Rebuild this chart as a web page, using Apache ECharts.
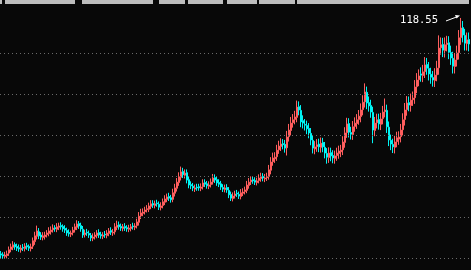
<!DOCTYPE html>
<html><head><meta charset="utf-8">
<script src="https://cdn.jsdelivr.net/npm/echarts@6/dist/echarts.min.js"></script>
<style>html,body{margin:0;padding:0;background:#080808;}#c{width:471px;height:270px;}</style>
</head><body><div id="c"></div><script>
const opens = [
61.0,60.8,60.4,60.6,61.2,62.1,62.6,63.3,62.8,62.5,
62.0,62.6,62.3,63.0,62.8,62.3,62.9,64.0,65.3,66.4,
65.6,65.0,65.2,65.7,66.0,66.4,66.9,67.4,67.0,67.5,
67.9,67.7,67.2,66.7,66.2,65.8,66.2,66.9,67.5,68.4,
67.9,67.0,65.7,66.3,66.0,65.5,64.8,65.2,65.5,66.2,
65.7,65.3,65.8,65.5,66.0,66.7,66.1,66.4,67.5,68.1,
67.7,67.2,67.7,67.4,67.0,67.2,67.8,67.5,67.9,68.7,
70.3,70.9,71.3,71.8,71.9,72.6,73.3,72.8,73.4,73.1,
72.3,72.8,73.6,74.3,75.0,74.7,74.3,75.8,77.0,78.4,
79.7,81.1,80.2,80.8,79.1,77.9,77.5,76.8,77.3,77.4,
77.0,77.4,78.4,78.1,77.5,77.9,78.6,79.6,79.1,78.4,
78.1,77.2,76.7,77.2,76.5,75.5,74.5,75.2,75.8,75.5,
75.0,75.8,76.2,76.5,77.7,78.6,79.1,78.9,78.4,78.9,
79.4,79.9,79.3,79.6,79.9,81.4,83.5,84.2,84.7,86.4,
87.2,87.9,87.7,86.9,89.6,91.1,93.0,93.8,94.3,96.9,
96.0,93.5,92.6,92.3,91.6,90.4,88.7,86.6,87.2,87.8,
87.0,88.2,87.0,85.5,84.5,85.7,85.0,84.3,85.0,85.5,
85.9,86.4,88.2,90.6,92.8,90.6,90.1,92.1,92.8,93.8,
94.5,96.2,98.1,100.4,97.9,97.2,95.5,91.1,93.0,93.8,
92.6,94.0,95.7,96.0,91.9,88.7,87.7,87.0,88.4,89.0,
89.6,91.3,93.8,96.2,97.9,97.2,98.6,99.1,101.8,103.5,
104.9,104.5,105.5,107.2,106.2,104.8,104.0,103.3,104.7,106.4,
111.3,112.1,110.6,112.1,112.5,110.1,108.7,106.7,108.4,110.1,
113.8,116.2,114.3,112.3,113.3];
const closes = [
60.7,60.5,60.7,61.0,62.0,62.7,63.2,62.7,62.4,62.2,
62.4,62.4,62.9,62.7,62.4,62.7,64.2,65.4,66.6,65.4,
65.1,65.4,65.6,66.1,66.6,66.8,67.3,67.1,67.6,67.8,
67.6,67.1,66.8,66.1,65.9,66.1,66.8,67.6,68.3,67.8,
67.1,65.6,66.1,66.1,65.6,64.9,65.1,65.6,66.1,65.6,
65.4,65.6,65.6,66.1,66.6,66.3,66.3,67.6,68.0,67.6,
67.3,67.6,67.3,67.1,67.3,67.6,67.6,67.8,68.8,70.2,
71.0,71.2,71.7,72.0,72.7,73.2,72.9,73.2,73.2,72.4,
72.7,73.7,74.4,74.9,74.6,74.2,75.9,77.1,78.5,79.8,
81.0,80.3,80.7,79.0,77.8,77.6,77.1,77.1,77.1,77.1,
77.3,78.3,78.0,77.6,77.8,78.5,79.5,79.0,78.3,78.0,
77.3,76.8,77.1,76.6,75.4,74.6,75.1,75.6,75.6,75.1,
75.9,76.1,76.6,77.8,78.5,79.0,78.8,78.5,78.8,79.5,
79.8,79.5,79.5,79.8,81.5,83.4,84.4,84.6,86.3,87.3,
87.8,87.6,86.8,89.5,91.2,92.9,93.7,94.4,96.8,96.1,
93.2,92.9,92.4,91.5,90.5,88.8,86.8,87.1,87.6,87.1,
88.0,87.1,85.6,84.6,85.6,84.9,84.4,84.9,85.6,86.1,
86.3,88.3,90.5,92.7,90.7,90.2,92.0,92.9,93.7,94.6,
96.1,98.0,100.5,97.8,97.1,95.6,91.2,92.9,93.7,92.7,
93.9,95.6,96.1,92.0,88.8,87.8,87.1,88.3,89.3,89.5,
91.2,93.7,96.1,97.8,97.3,98.5,99.0,101.7,103.4,104.4,
104.6,105.4,107.1,106.3,104.9,104.1,103.4,104.6,106.3,111.2,
112.0,110.7,112.0,112.4,110.2,108.8,106.8,108.3,110.0,113.7,
116.1,114.4,112.4,113.2,112.2];
const highs = [
61.7,61.4,61.5,61.8,62.8,63.5,64.1,63.8,63.5,63.3,
63.2,63.4,63.6,63.7,63.3,63.5,65.0,66.4,67.9,67.3,
66.3,66.3,66.4,66.8,67.5,67.7,68.2,68.0,68.5,68.6,
68.7,68.2,68.0,67.4,67.0,66.7,67.6,68.4,69.2,69.0,
68.6,67.8,66.9,67.1,66.7,66.1,66.0,66.3,66.8,67.0,
66.4,66.3,66.6,66.8,67.3,67.5,67.1,68.5,69.1,68.9,
68.4,68.3,68.5,68.0,68.1,68.3,68.6,68.5,69.6,71.2,
72.0,72.1,72.5,72.9,73.5,74.1,74.1,74.0,74.2,73.8,
73.6,74.5,75.3,75.7,75.9,75.4,76.9,78.1,79.5,80.9,
82.3,82.0,81.6,81.6,79.9,78.7,78.3,77.9,78.1,78.1,
78.2,79.2,79.2,78.8,78.7,79.4,80.5,80.4,79.9,79.2,
78.8,78.0,77.9,78.0,77.3,76.2,76.0,76.4,76.6,76.2,
76.8,77.0,77.4,78.8,79.5,79.9,79.8,79.7,79.6,80.4,
80.8,80.7,80.5,80.8,82.7,84.6,85.7,85.8,87.6,88.6,
89.2,89.0,88.8,91.0,92.7,94.4,95.1,95.9,98.4,98.2,
97.3,94.8,93.9,93.5,92.9,91.7,90.0,88.5,89.0,89.1,
89.4,89.3,88.3,86.8,87.0,86.9,86.3,86.2,86.9,87.4,
87.6,89.7,91.9,94.2,94.1,92.0,93.4,94.3,95.1,96.1,
97.7,99.7,102.6,101.8,99.4,98.6,96.9,94.4,95.2,95.2,
95.4,97.1,98.9,97.4,93.3,90.1,89.1,89.8,90.8,90.9,
92.7,95.3,97.8,99.5,99.4,100.1,100.6,103.4,105.1,106.0,
106.5,107.1,109.0,108.8,107.8,106.4,105.6,106.3,108.1,114.3,
113.8,113.7,113.8,114.2,114.1,111.8,110.3,110.0,111.8,115.6,
118.55,117.8,115.9,115.0,115.0];
const lows = [
60.0,59.8,59.8,59.9,60.5,61.4,61.9,62.0,61.7,61.5,
61.3,61.7,61.6,62.0,61.7,61.6,62.2,63.2,64.5,64.6,
64.4,64.3,64.5,65.0,65.3,65.7,66.2,66.4,66.3,66.8,
66.9,66.4,66.1,65.4,65.2,65.1,65.5,66.2,66.8,67.1,
66.4,64.9,65.0,65.4,64.9,64.1,64.1,64.5,64.8,64.9,
64.7,64.6,64.9,64.8,65.3,65.6,65.4,65.7,66.8,66.9,
66.6,66.5,66.6,66.4,66.3,66.5,66.9,66.8,67.2,67.9,
69.5,70.2,70.6,71.1,71.2,71.9,72.2,72.1,72.5,71.7,
71.6,72.1,72.9,73.6,73.9,73.5,73.6,75.0,76.2,77.6,
78.9,79.5,79.4,78.2,77.0,76.8,76.3,76.1,76.4,76.4,
76.3,76.7,77.3,76.9,76.8,77.2,77.9,78.3,77.6,77.3,
76.6,76.1,76.0,75.9,74.6,73.9,73.8,74.5,74.9,74.4,
74.3,75.1,75.5,75.8,76.9,77.8,78.1,77.8,77.7,78.2,
78.6,78.7,78.5,78.8,79.1,80.4,82.5,83.2,83.7,85.4,
86.1,86.5,85.7,85.0,88.4,89.9,91.8,92.6,93.1,94.8,
91.9,91.6,91.1,90.2,89.2,87.5,85.5,85.3,85.9,85.8,
85.7,85.8,84.3,83.0,83.2,83.6,83.1,83.0,83.7,84.2,
84.6,85.1,86.9,89.3,89.4,88.9,88.8,90.8,91.5,92.5,
93.1,94.8,96.7,96.3,95.7,94.2,88.0,89.7,91.6,91.3,
91.2,92.6,94.3,90.5,87.3,86.3,85.6,85.5,87.0,87.6,
88.2,89.9,92.3,94.7,95.8,95.7,97.1,97.6,100.2,101.9,
103.0,102.9,103.9,104.7,103.3,102.5,101.8,101.7,103.1,104.7,
109.6,109.0,108.9,110.4,108.5,107.1,105.0,105.0,106.7,108.4,
112.0,112.6,110.6,110.6,110.4];
const gridValues = [60, 70, 80, 90, 100, 110];
const categories = opens.map((_, i) => 'D' + (i + 1));

// decorative top band segments (layout)
const bandSegments = [[0,2],[5,75],[82,153],[159,185],[188,223],[227,257],[259,295],[297,469]];

const UP = '#ff5e5e', DOWN = '#00f4f4';
const chart = echarts.init(document.getElementById('c'), null, {renderer: 'canvas'});
const ohlc = opens.map((o, i) => [o, closes[i], lows[i], highs[i]]);

chart.setOption({
  animation: false,
  backgroundColor: '#080808',
  grid: {left: 0, top: 0, width: 470, height: 270},
  xAxis: {type: 'category', data: categories, boundaryGap: true,
    axisLine: {show: false}, axisTick: {show: false}, axisLabel: {show: false}, splitLine: {show: false}},
  yAxis: {type: 'value', min: 57.07, max: 122.93, scale: true,
    axisLine: {show: false}, axisTick: {show: false}, axisLabel: {show: false}, splitLine: {show: false}},
  series: [{
    type: 'candlestick',
    data: ohlc,
    barWidth: 2,
    itemStyle: {color: UP, color0: DOWN, borderColor: UP, borderColor0: DOWN, borderWidth: 1},
    markLine: {
      silent: true, symbol: 'none', label: {show: false},
      lineStyle: {color: '#6a6a6a', type: [1, 3], width: 1},
      data: gridValues.map(v => ({yAxis: v}))
    }
  }]
});

let maxIdx = 0;
highs.forEach((h, i) => { if (h > highs[maxIdx]) maxIdx = i; });
const p = chart.convertToPixel({seriesIndex: 0}, [maxIdx, highs[maxIdx]]);
const px = p[0], py = p[1];

const graphics = bandSegments.map(s => ({
  type: 'rect', shape: {x: s[0], y: 0, width: s[1] - s[0], height: 4},
  style: {fill: '#bdbdbd'}, z: 100
}));
graphics.push({
  type: 'text', x: px - 23, y: py + 8, z: 100,
  style: {text: highs[maxIdx].toFixed(2), fill: '#ffffff', font: '10.5px "DejaVu Sans Mono"',
    align: 'right', verticalAlign: 'bottom'}
});
graphics.push({
  type: 'line', z: 100,
  shape: {x1: px - 15, y1: py + 3, x2: px - 3, y2: py - 1.5},
  style: {stroke: '#ffffff', lineWidth: 1}
});
graphics.push({
  type: 'polygon', z: 100,
  shape: {points: [[px - 1, py - 2.5], [px - 6, py - 3], [px - 4.5, py + 0.5]]},
  style: {fill: '#ffffff'}
});
chart.setOption({graphic: graphics});
</script></body></html>
